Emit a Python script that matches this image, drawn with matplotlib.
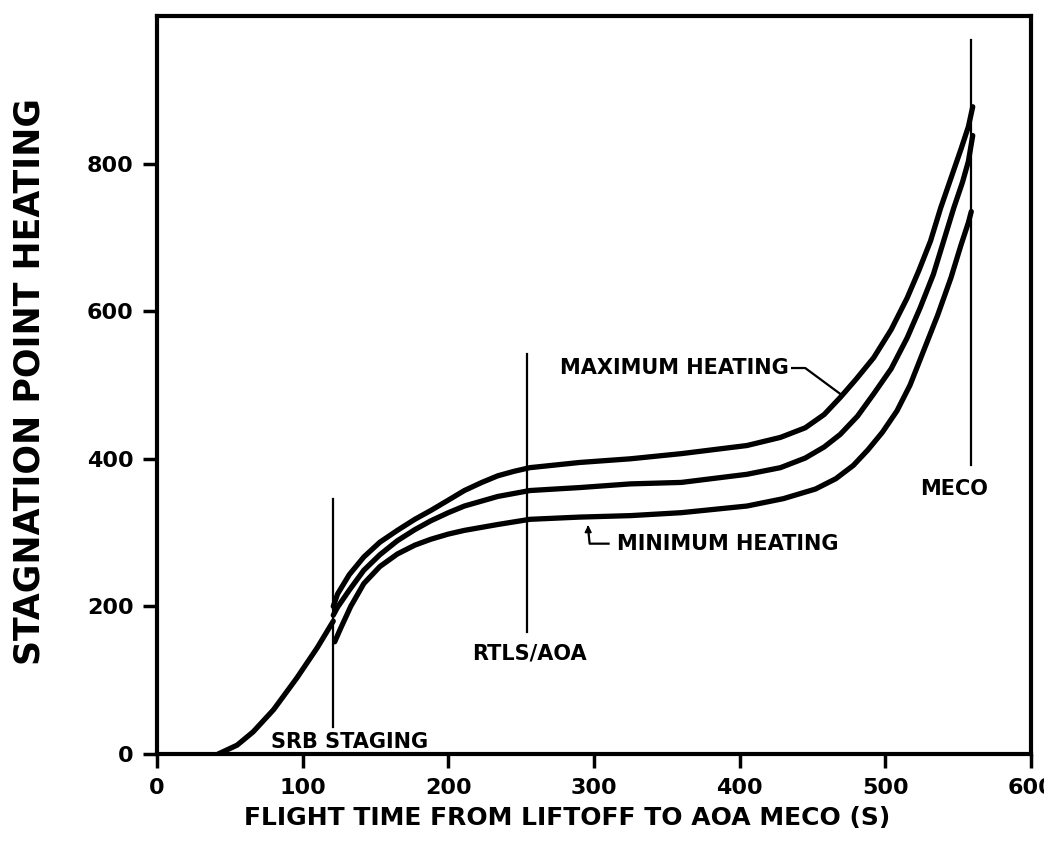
import matplotlib
matplotlib.use("Agg")
import matplotlib.pyplot as plt

plt.rcParams['font.family'] = ['DejaVu Sans']
plt.rcParams['font.weight'] = 'bold'

# common part of the ascent (before SRB staging)
common_t = [42, 55, 66, 80, 96, 110, 121]
common_q = [0, 12, 30, 60, 103, 144, 180]

# maximum heating
max_t = [121, 124, 132, 142, 153, 165, 177, 188, 200, 211, 223, 234, 245, 256,
         290, 325, 360, 405, 428, 445, 458, 469, 480, 492, 504, 515, 523, 531,
         538, 545, 552, 557, 560]
max_q = [200, 217, 243, 267, 287, 303, 318, 330, 344, 357, 368, 377, 383, 388,
         395, 400, 407, 418, 429, 442, 460, 483, 508, 537, 575, 618, 655, 695,
         740, 780, 820, 850, 877]

# nominal
mid_t = [121, 124, 132, 142, 153, 165, 177, 188, 200, 211, 234, 256, 290, 325,
         360, 405, 428, 445, 458, 469, 481, 492, 504, 515, 524, 533, 540, 547,
         553, 557, 560]
mid_q = [188, 199, 222, 249, 270, 289, 304, 316, 327, 336, 349, 357, 361, 366,
         368, 379, 388, 401, 416, 433, 458, 488, 522, 564, 605, 650, 695, 740,
         775, 803, 838]

# minimum heating
min_t = [122, 126, 133, 142, 153, 165, 177, 188, 200, 211, 234, 256, 290, 325,
         360, 405, 430, 452, 466, 478, 488, 498, 508, 517, 526, 536, 545, 552,
         557, 559]
min_q = [152, 170, 200, 231, 254, 271, 283, 291, 298, 303, 311, 318, 321, 323,
         327, 336, 346, 359, 373, 391, 412, 436, 465, 500, 545, 595, 645, 690,
         720, 735]

# event markers: time, bottom, top
events = {'SRB': (121, 36, 346), 'RTLS': (254, 165, 542), 'MECO': (559, 392, 968)}

fig = plt.figure(figsize=(10.44, 8.59), dpi=100)
ax = fig.add_axes([157/1044, 1 - 754/859, (1031 - 157)/1044, (754 - 16)/859])

lw = 3.8
ax.plot(common_t, common_q, color='black', lw=lw, solid_capstyle='round')
ax.plot(max_t, max_q, color='black', lw=lw, solid_capstyle='round')
ax.plot(mid_t, mid_q, color='black', lw=lw, solid_capstyle='round')
ax.plot(min_t, min_q, color='black', lw=lw, solid_capstyle='round')

for t, lo, hi in events.values():
    ax.plot([t, t], [lo, hi], color='black', lw=1.6)

# labels on the plot
fs = 15
ax.text(132, 16, 'SRB STAGING', ha='center', va='center', fontsize=fs)
ax.text(256, 136, 'RTLS/AOA', ha='center', va='center', fontsize=fs)
ax.text(547, 359, 'MECO', ha='center', va='center', fontsize=fs)
ax.text(434, 523, 'MAXIMUM HEATING', ha='right', va='center', fontsize=fs)
ax.plot([436, 445, 469], [523, 523, 488], color='black', lw=1.6)
ax.text(316, 284, 'MINIMUM HEATING', ha='left', va='center', fontsize=fs)
ax.plot([310, 297, 296], [285, 285, 305], color='black', lw=1.6)
ax.annotate('', xy=(296, 314), xytext=(296, 302),
            arrowprops=dict(arrowstyle='-|>', color='black', lw=1.2,
                            mutation_scale=10))

ax.set_xlim(0, 600)
ax.set_ylim(0, 1000)
ax.set_xticks([0, 100, 200, 300, 400, 500, 600])
ax.set_yticks([0, 200, 400, 600, 800])
ax.tick_params(axis='both', direction='out', length=10, width=2.5,
               labelsize=16, pad=7)
for s in ax.spines.values():
    s.set_linewidth(3)

fig.text(0.543, 1 - 818/859, 'FLIGHT TIME FROM LIFTOFF TO AOA MECO (S)',
         ha='center', va='center', fontsize=18)
fig.text(30/1044, 1 - 665/859, 'STAGNATION POINT HEATING',
         rotation=90, ha='center', va='bottom', fontsize=25)

fig.savefig('out.png', dpi=100)
